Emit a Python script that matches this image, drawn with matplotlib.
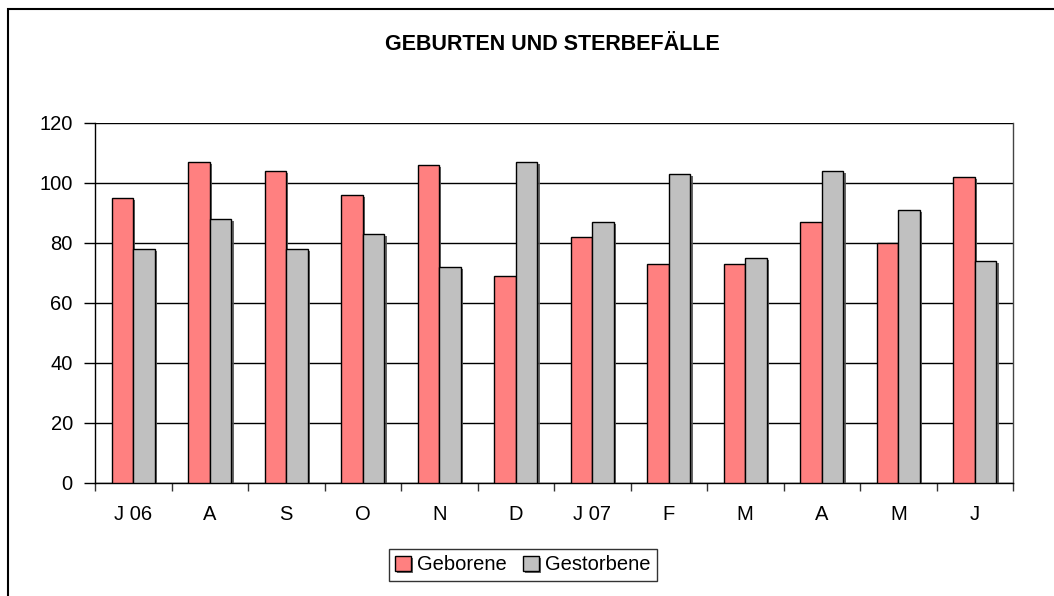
import matplotlib.pyplot as plt
import matplotlib.patheffects as pe
from matplotlib.patches import Rectangle
import numpy as np

months = ["J 06", "A", "S", "O", "N", "D", "J 07", "F", "M", "A", "M", "J"]
geborene = [95, 107, 104, 96, 106, 69, 82, 73, 73, 87, 80, 102]
gestorbene = [78, 88, 78, 83, 72, 107, 87, 103, 75, 104, 91, 74]

plt.rcParams['font.family'] = ['Liberation Sans', 'DejaVu Sans']

fig = plt.figure(figsize=(10.54, 5.96), dpi=100)
ax = fig.add_axes([95 / 1054, 1 - 483 / 596, 918 / 1054, 360 / 596])

x = np.arange(len(months))
w = 0.284
shadow = [pe.SimplePatchShadow(offset=(1.5, -1.5), shadow_rgbFace='#555555', alpha=0.9), pe.Normal()]
b1 = ax.bar(x - w / 2, geborene, w, color='#FF8080', edgecolor='black', linewidth=1.0,
            label='Geborene', zorder=3)
b2 = ax.bar(x + w / 2, gestorbene, w, color='#C0C0C0', edgecolor='black', linewidth=1.0,
            label='Gestorbene', zorder=3)
for p in list(b1) + list(b2):
    p.set_path_effects(shadow)

ax.set_xlim(-0.5, len(months) - 0.5)
ax.set_ylim(0, 120)
ax.set_yticks(range(0, 121, 20))
ax.yaxis.grid(True, color='black', linewidth=1.0, zorder=0)
ax.set_axisbelow(True)

ax.set_xticks(np.arange(-0.5, len(months), 1.0))
ax.set_xticklabels([])
ax.set_xticks(x, minor=True)
ax.set_xticklabels(months, minor=True)
ax.tick_params(axis='x', which='major', direction='out', length=6, width=1, color='#333333')
ax.tick_params(axis='x', which='minor', length=0, pad=16, labelsize=14.5)
ax.tick_params(axis='y', direction='out', length=8, width=1, pad=8, labelsize=14.5)

ax.spines['top'].set_visible(False)
for s in ['left', 'bottom', 'right']:
    ax.spines[s].set_color('black')
    ax.spines[s].set_linewidth(1.0)
ax.spines['right'].set_color('#444444')

fig.text(0.5 + 25 / 1054, 1 - 45 / 596, "GEBURTEN UND STERBEFÄLLE", ha='center', va='center',
         fontsize=15.5, fontweight='bold')

leg = fig.legend(loc='center', bbox_to_anchor=(523 / 1054, 1 - 565 / 596), ncol=2,
                 fontsize=14.5, frameon=True, fancybox=False, edgecolor='black',
                 handlelength=0.8, handleheight=0.8, handletextpad=0.3, columnspacing=0.8,
                 borderpad=0.3)
leg.get_frame().set_linewidth(1.0)

fig.patches.append(Rectangle((8 / 1054, -0.1), 1.2, 1 - 9 / 596 + 0.1, transform=fig.transFigure,
                             fill=False, edgecolor='black', linewidth=1.5))

fig.savefig("out.png", dpi=100)
